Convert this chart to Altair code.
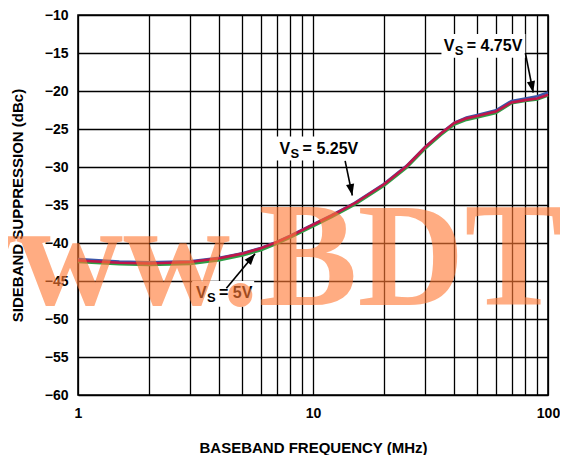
import altair as alt
import pandas as pd

# ---- data -------------------------------------------------------------
freq = [1, 1.5, 2, 3, 4, 5, 6, 7, 8, 10, 12, 15, 20, 25, 30, 35, 40, 45, 50, 60, 70, 80, 90, 100]
vs_5v = [-42.3, -42.6, -42.7, -42.5, -42.0, -41.4, -40.7, -39.9, -39.1, -37.6, -36.4, -34.8,
         -32.3, -29.9, -27.4, -25.6, -24.2, -23.6, -23.3, -22.7, -21.5, -21.2, -21.0, -20.5]
vs_475 = [-42.1, -42.45, -42.55, -42.4, -41.95, -41.35, -40.65, -39.85, -39.05, -37.55, -36.35, -34.75,
          -32.25, -29.85, -27.35, -25.55, -24.15, -23.5, -23.15, -22.55, -21.3, -21.0, -20.7, -20.2]
vs_525 = [-42.5, -42.8, -42.9, -42.75, -42.25, -41.65, -40.95, -40.1, -39.3, -37.8, -36.6, -35.0,
          -32.5, -30.1, -27.6, -25.8, -24.4, -23.8, -23.5, -22.9, -21.6, -21.3, -21.1, -20.6]
series_names = ["4.75V", "5.25V", "5V"]
series_colors = ["#3a55a8", "#2e9e45", "#c0154a"]

x_ticks = [1, 2, 3, 4, 5, 6, 7, 8, 9, 10, 20, 30, 40, 50, 60, 70, 80, 90, 100]
y_ticks = [-60, -55, -50, -45, -40, -35, -30, -25, -20, -15, -10]

# annotation labels: anchor (freq, value) = left/baseline of the text
label_text = ["= 4.75V", "= 5.25V", "= 5V"]
label_freq = [36.0, 7.21, 3.18]
label_val = [-14.72, -28.28, -47.27]
# white boxes behind labels
box_f1 = [35.2, 6.93, 3.06]
box_f2 = [80.1, 16.0, 5.62]
box_v1 = [-12.49, -26.0, -45.0]
box_v2 = [-15.64, -29.16, -48.4]
# arrows (start -> tip)
arr_f1 = [80.1, 13.7, 4.28]
arr_v1 = [-15.0, -29.2, -45.96]
arr_f2 = [86.5, 14.7, 5.67]
arr_v2 = [-20.2, -33.75, -41.4]
arr_ang = [168.7, 168.7, 39.6]

# watermark
wm_left = ["www."]
wm_right = ["BDTIC"]
wm_freq = [6.0]
wm_val = [-48.2]

# ---- frames -----------------------------------------------------------
rows = []
for name, vals in zip(series_names, [vs_475, vs_525, vs_5v]):
    for f, v in zip(freq, vals):
        rows.append({"freq": f, "val": v, "vs": name})
df_lines = pd.DataFrame(rows)
df_labels = pd.DataFrame({"freq": label_freq, "val": label_val, "txt": label_text})
df_boxes = pd.DataFrame({"freq": box_f1, "freq2": box_f2, "val": box_v1, "val2": box_v2})
df_arr = pd.DataFrame({"freq": arr_f1, "val": arr_v1, "freq2": arr_f2, "val2": arr_v2})
df_head = pd.DataFrame({"freq": arr_f2, "val": arr_v2, "ang": arr_ang})
df_wm = pd.DataFrame({"freq": wm_freq, "val": wm_val, "l": wm_left, "r": wm_right})

FONT = "Liberation Sans"

xscale = alt.Scale(type="log", domain=[1, 100], nice=False)
yscale = alt.Scale(domain=[-60, -10], nice=False, zero=False)
xaxis = alt.Axis(
    values=x_ticks,
    labelExpr="(datum.value == 1 || datum.value == 10 || datum.value == 100) ? format(datum.value, 'd') : ''",
    title="BASEBAND FREQUENCY (MHz)",
    grid=True, ticks=False, domain=False, labelFlush=False, labelOverlap=False,
    labelPadding=11, titlePadding=20,
)
yaxis = alt.Axis(
    values=y_ticks, format="d",
    title="SIDEBAND SUPPRESSION (dBc)",
    grid=True, ticks=False, domain=False, labelPadding=10, titlePadding=19,
)
X = alt.X("freq:Q", scale=xscale, axis=xaxis)
Y = alt.Y("val:Q", scale=yscale, axis=yaxis)

boxes = alt.Chart(df_boxes).mark_rect(fill="white", stroke=None).encode(
    x=X, x2="freq2:Q", y=Y, y2="val2:Q")

lines = alt.Chart(df_lines).mark_line(strokeWidth=2.6).encode(
    x=X, y=Y,
    color=alt.Color("vs:N", scale=alt.Scale(domain=series_names, range=series_colors), legend=None),
)

arrows = alt.Chart(df_arr).mark_rule(color="black", strokeWidth=1.6).encode(
    x=X, y=Y, x2="freq2:Q", y2="val2:Q")

heads = alt.Chart(df_head).mark_point(
    shape="M0,0 L-0.36,1 L0.36,1 Z", filled=True, fill="black", stroke=None, opacity=1, size=520
).encode(x=X, y=Y, angle=alt.Angle("ang:Q", scale=None))

tstyle = dict(align="left", baseline="alphabetic", font=FONT, fontWeight="bold", color="black")
t_v = alt.Chart(df_labels).mark_text(fontSize=16, **tstyle).encode(x=X, y=Y, text=alt.value("V"))
t_s = alt.Chart(df_labels).mark_text(fontSize=13, dx=11, dy=4, **tstyle).encode(x=X, y=Y, text=alt.value("S"))
t_r = alt.Chart(df_labels).mark_text(fontSize=16, dx=23, **tstyle).encode(x=X, y=Y, text="txt:N")

wstyle = dict(baseline="alphabetic", font="Liberation Serif", fontWeight="bold", fontSize=148,
              color="#ff7a36", opacity=0.62)
wm1 = alt.Chart(df_wm).mark_text(align="right", dx=-2, **wstyle).encode(x=X, y=Y, text="l:N")
wm2 = alt.Chart(df_wm).mark_text(align="left", dx=-2, **wstyle).encode(x=X, y=Y, text="r:N")

chart = alt.layer(boxes, lines, arrows, heads, t_v, t_s, t_r, wm1, wm2).properties(
    width=470, height=380,
    autosize=alt.AutoSizeParams(type="none"),
    padding={"left": 70, "top": 7, "right": 12, "bottom": 60},
).configure_view(stroke="black", strokeWidth=1.6).configure_axis(
    gridColor="black", gridWidth=1.3, gridOpacity=1,
    labelFont=FONT, labelFontSize=14, labelFontWeight="bold", labelColor="black",
    titleFont=FONT, titleFontSize=15, titleFontWeight="bold", titleColor="black",
)

chart.save("out.html", embed_options={"renderer": "svg", "actions": False})
